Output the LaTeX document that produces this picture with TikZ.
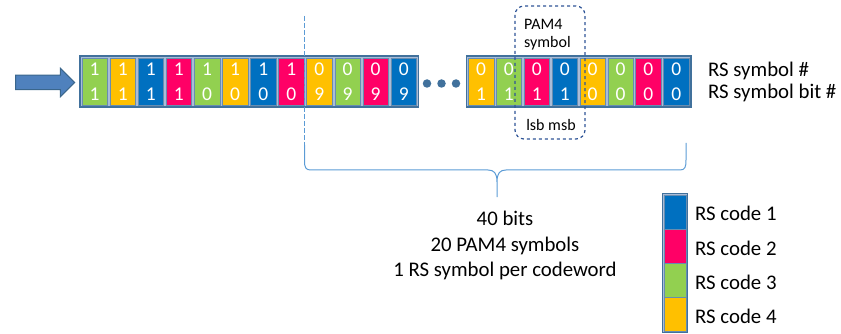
\documentclass[tikz,border=0pt]{standalone}
\usepackage{fontspec}
\setmainfont{Carlito}
\usepackage{xcolor}
\definecolor{rsblue}{HTML}{0070C0}
\definecolor{rspink}{HTML}{FF0066}
\definecolor{rsgreen}{HTML}{92D050}
\definecolor{rsorange}{HTML}{FFC000}
\definecolor{edge}{HTML}{41719C}
\definecolor{gapc}{HTML}{A9BCD8}
\definecolor{brc}{HTML}{5B9BD5}
\definecolor{pamc}{HTML}{2F5597}
\definecolor{arrc}{HTML}{4F81BD}
\usetikzlibrary{arrows.meta,positioning,fit,backgrounds,shapes.arrows}
\tikzset{
  cell/.style={draw=edge!80,line width=0.5pt,minimum width=25.5,minimum height=47,inner sep=0pt,text=white,align=center,font=\fontsize{19.5}{25}\selectfont},
  bcell/.style={cell,fill=rsblue},
  pcell/.style={cell,fill=rspink},
  gcell/.style={cell,fill=rsgreen},
  ocell/.style={cell,fill=rsorange},
  lcell/.style={draw=edge!80,line width=0.5pt,minimum width=22,minimum height=34,inner sep=0pt},
  frame/.style={draw=edge,line width=1.4pt,fill=gapc,inner sep=1.6pt},
  lab/.style={font=\fontsize{20.8}{25.5}\selectfont,inner sep=0pt},
  slab/.style={font=\fontsize{16}{18}\selectfont,inner sep=0pt,align=left},
  dot/.style={circle,fill=edge,minimum size=8.5,inner sep=0pt},
  pam/.style={draw=pamc,dashed,line width=1.2pt,rounded corners=9pt,minimum width=70,minimum height=133,inner sep=0pt},
  brace/.style={draw=brc,line width=1pt},
  cut/.style={draw=brc,line width=1.2pt,dash pattern=on 5pt off 2pt},
  inarr/.style={single arrow,fill=arrc,draw=edge!90!black,line width=1pt,minimum height=59,single arrow head extend=7,inner xsep=0pt,inner ysep=6.75pt},
}

\begin{document}
\begin{tikzpicture}[x=1pt,y=-1pt]
\useasboundingbox (0,0) rectangle (841,334);
% input arrow
\node[inarr] (inarrow) at (41.5,82.5) {};
% first block of RS symbols
\node[gcell] (c1) at (94.6,81.5) {1\\1};
\node[ocell] (c2) at (122.7,81.5) {1\\1};
\node[bcell] (c3) at (150.8,81.5) {1\\1};
\node[pcell] (c4) at (178.9,81.5) {1\\1};
\node[gcell] (c5) at (207.0,81.5) {1\\0};
\node[ocell] (c6) at (235.1,81.5) {1\\0};
\node[bcell] (c7) at (263.2,81.5) {1\\0};
\node[pcell] (c8) at (291.3,81.5) {1\\0};
\node[ocell] (c9) at (319.4,81.5) {0\\9};
\node[gcell] (c10) at (347.5,81.5) {0\\9};
\node[pcell] (c11) at (375.6,81.5) {0\\9};
\node[bcell] (c12) at (403.7,81.5) {0\\9};
% dots
\node[dot] (dt1) at (427,83.5) {};
\node[dot] (dt2) at (441.5,83.5) {};
\node[dot] (dt3) at (456,83.5) {};
% second block
\node[ocell] (d1) at (481.0,81.5) {0\\1};
\node[gcell] (d2) at (508.9,81.5) {0\\1};
\node[pcell] (d3) at (536.8,81.5) {0\\1};
\node[bcell] (d4) at (564.7,81.5) {0\\1};
\node[ocell] (d5) at (592.6,81.5) {0\\0};
\node[gcell] (d6) at (620.5,81.5) {0\\0};
\node[pcell] (d7) at (648.4,81.5) {0\\0};
\node[bcell] (d8) at (676.3,81.5) {0\\0};
\begin{scope}[on background layer]
\node[frame,fit=(c1)(c12)] (blk1) {};
\node[frame,fit=(d1)(d8)] (blk2) {};
\end{scope}
\node[lab,anchor=base west] (symno) at (708,76.5) {RS symbol \#};
\node[lab,anchor=base west] (bitno) at (708,98.5) {RS symbol bit \#};
% PAM4 symbol marker
\node[pam] (pam) at (550,72.5) {};
\node[slab,anchor=north west] (pamlab) at (524,19.5) {PAM4\\symbol};
\node[slab,anchor=base] (lsbmsb) at (551,130.5) {lsb msb};
% cut line and brace
\coordinate (cuttop) at (304.5,16);
\coordinate (brL) at (304.5,145);
\coordinate (brR) at (686,143);
\coordinate (brT) at (497,197);
\draw[cut] (cuttop) -- (brL);
\draw[brace] (brL) -- (304.5,161) .. controls (304.5,168) and (306,170) .. (311,170) -- (488,170)
  .. controls (494,170) and (497,173) .. (497,182) -- (brT) -- (497,182)
  .. controls (497,173) and (500,170) .. (506,170) -- (680,170)
  .. controls (685,170) and (686,167) .. (686,160) -- (brR);
\node[lab,anchor=north,align=center] (summary) at (505,211) {40 bits\\20 PAM4 symbols\\1 RS symbol per codeword};
% legend
\node[lcell,fill=rsblue] (l1) at (675,212) {};
\node[lcell,fill=rspink] (l2) at (675,246) {};
\node[lcell,fill=rsgreen] (l3) at (675,280) {};
\node[lcell,fill=rsorange] (l4) at (675,314) {};
\begin{scope}[on background layer]
\node[frame,inner sep=1pt,fit=(l1)(l4)] (leg) {};
\end{scope}
\node[lab,anchor=west] (t1) at (695,213) {RS code 1};
\node[lab,anchor=west] (t2) at (695,248) {RS code 2};
\node[lab,anchor=west] (t3) at (695,282) {RS code 3};
\node[lab,anchor=west] (t4) at (695,316) {RS code 4};
\end{tikzpicture}
\end{document}
